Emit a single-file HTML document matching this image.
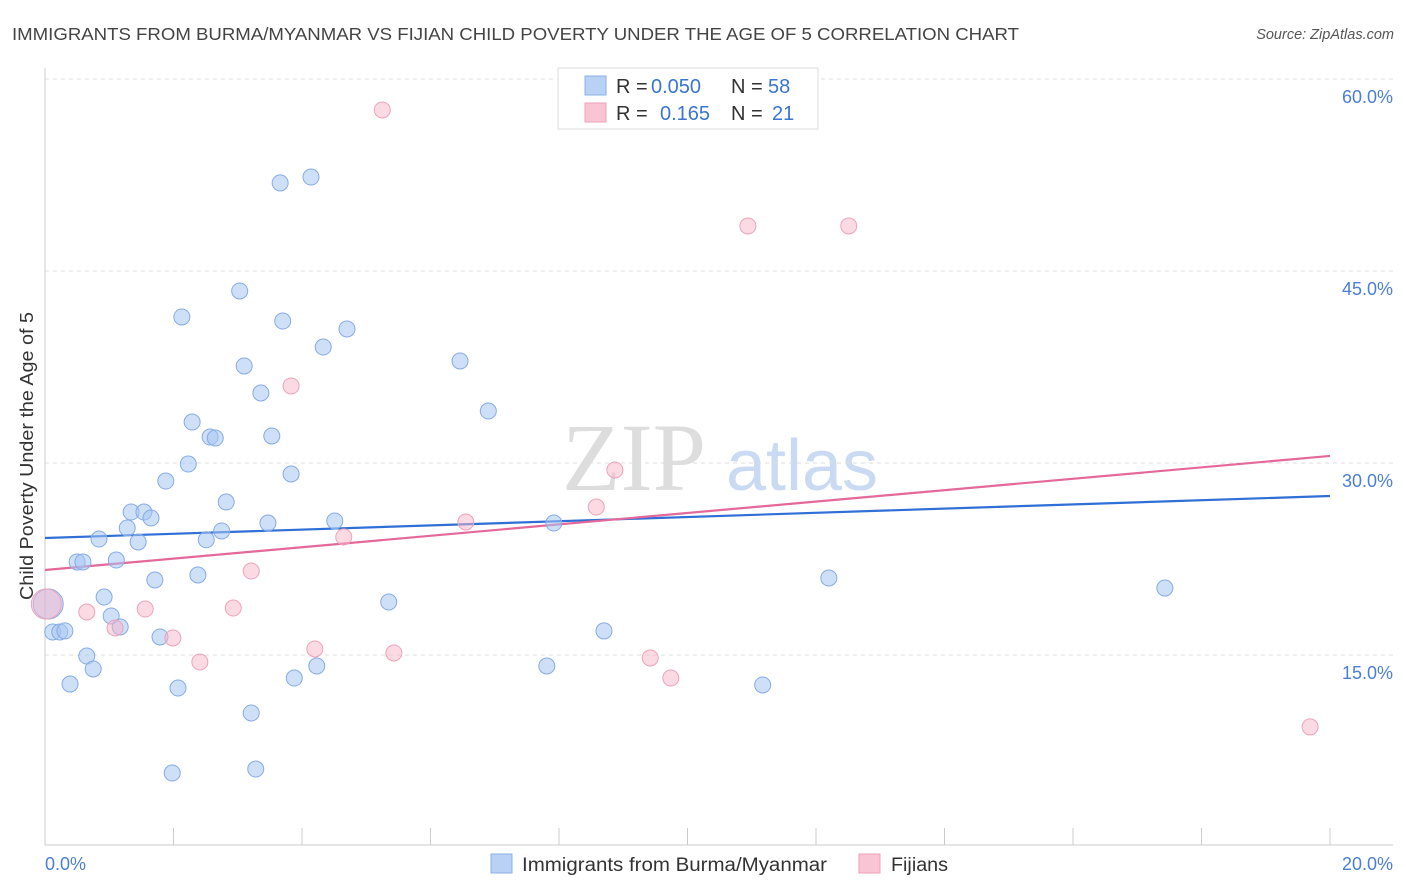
<!DOCTYPE html>
<html><head><meta charset="utf-8"><style>
body{margin:0;background:#fff;font-family:"Liberation Sans",Arial,sans-serif;}
svg{display:block}
</style></head><body>
<svg id="chart" width="1406" height="892">
<text x="12" y="40" font-size="17.5" fill="#444" textLength="1007" lengthAdjust="spacingAndGlyphs">IMMIGRANTS FROM BURMA/MYANMAR VS FIJIAN CHILD POVERTY UNDER THE AGE OF 5 CORRELATION CHART</text>
<text x="1394" y="39" font-size="14.5" fill="#555" font-style="italic" text-anchor="end">Source: ZipAtlas.com</text>
<g>
<text x="634" y="490" font-size="96" font-family="Liberation Serif,serif" fill="#ddd" text-anchor="middle">ZIP</text>
<text x="802" y="490" font-size="72" fill="#c9daf2" text-anchor="middle">atlas</text>
</g>
<g id="grid"></g>
<g id="axes"></g>
<g id="trends"></g>
<g id="points"></g>
<text x="33" y="456" font-size="18" fill="#333" text-anchor="middle" textLength="288" lengthAdjust="spacingAndGlyphs" transform="rotate(-90 33 456)">Child Poverty Under the Age of 5</text>
<g>
<rect x="558" y="68" width="260" height="61" fill="#fff" stroke="#ddd"/>
<rect x="585" y="76" width="21" height="19" fill="#b9d1f5" stroke="#8ab0e6"/>
<rect x="585" y="103" width="21" height="19" fill="#f9c5d4" stroke="#f0a0b8"/>
<text y="93" font-size="20" fill="#333"><tspan x="616">R = </tspan><tspan x="651" fill="#3a75d0">0.050</tspan><tspan x="731">N = </tspan><tspan x="768" fill="#3a75d0">58</tspan></text>
<text y="120" font-size="20" fill="#333"><tspan x="616">R = </tspan><tspan x="660" fill="#3a75d0">0.165</tspan><tspan x="731">N = </tspan><tspan x="772" fill="#3a75d0">21</tspan></text>
</g>
<g>
<rect x="491" y="854" width="21" height="19" fill="#b9d1f5" stroke="#8ab0e6"/>
<text x="522" y="871" font-size="19" fill="#333" textLength="305" lengthAdjust="spacingAndGlyphs">Immigrants from Burma/Myanmar</text>
<rect x="859" y="854" width="21" height="19" fill="#f9c5d4" stroke="#f0a0b8"/>
<text x="891" y="871" font-size="19" fill="#333" textLength="57" lengthAdjust="spacingAndGlyphs">Fijians</text>
</g>
</svg>
<script>
const blueX=[0.05,0.12,0.23,0.31,0.39,0.50,0.59,0.65,0.75,0.84,0.92,1.03,1.11,1.17,1.28,1.34,1.45,1.54,1.65,1.71,1.79,1.88,1.98,2.07,2.13,2.23,2.29,2.38,2.51,2.57,2.65,2.75,2.82,3.03,3.10,3.21,3.28,3.36,3.47,3.53,3.66,3.70,3.83,3.88,4.14,4.23,4.33,4.51,4.70,5.35,6.46,6.90,7.81,7.92,8.70,11.17,12.20,17.43];
const blueY=[18.98,16.80,16.80,16.88,12.73,22.27,22.27,14.92,13.91,24.06,19.53,18.05,22.42,17.19,24.92,26.17,23.83,26.17,25.70,20.86,16.41,28.59,5.78,12.42,41.41,29.92,33.20,21.25,24.00,32.03,31.95,24.69,26.95,43.44,37.58,10.47,6.09,35.47,25.31,32.11,51.88,41.09,29.14,13.20,52.34,14.14,39.06,25.47,40.47,19.14,37.97,34.06,14.14,25.31,16.88,12.66,21.02,20.23];
const pinkX=[0.02,0.65,1.09,1.56,1.99,2.41,2.93,3.21,4.20,4.65,5.25,3.83,5.43,6.55,8.58,8.87,9.42,9.74,10.94,12.51,19.69];
const pinkY=[18.98,18.36,17.11,18.59,16.33,14.45,18.67,21.56,15.47,24.22,57.58,36.02,15.16,25.39,26.56,29.45,14.77,13.20,48.52,48.52,9.38];
const blueTrend=[24.14,27.42];
const pinkTrend=[21.64,30.55];
const yTicks=[15,30,45,60];
const xTickCount=10;
const NS="http://www.w3.org/2000/svg";
const sx=v=>45+v*1285/20, sy=v=>847-v*192/15;
function mk(tag,attrs,parent){const e=document.createElementNS(NS,tag);for(const k in attrs)e.setAttribute(k,attrs[k]);document.getElementById(parent).appendChild(e);return e;}
yTicks.forEach(t=>{
 const l=mk('line',{x1:45,x2:1393,y1:sy(t),y2:sy(t),stroke:'#ddd','stroke-dasharray':'4,4'},'grid');
 
 
 const tx=mk('text',{x:1393,y:sy(t)+24,'font-size':18,fill:'#4a7fd4','text-anchor':'end'},'grid');
 tx.textContent=t.toFixed(1)+'%';
 
 
});
const ax=mk('line',{x1:45,x2:45,y1:68,y2:845,stroke:'#ccc'},'axes');


const bx=mk('line',{x1:45,x2:1393,y1:845,y2:845,stroke:'#ccc'},'axes');


for(let i=0;i<=xTickCount;i++){
 const x=sx(i*20/xTickCount);
 const t=mk('line',{x1:x,x2:x,y1:828,y2:845,stroke:'#ccc'},'axes');
 
 
}
const xl=mk('text',{x:45,y:870,'font-size':18,fill:'#4a7fd4'},'axes');xl.textContent='0.0%';


const xr=mk('text',{x:1393,y:870,'font-size':18,fill:'#4a7fd4','text-anchor':'end'},'axes');xr.textContent='20.0%';


function pts(X,Y,fill,stroke,name){
 X.forEach((x,i)=>{
  const r=(i===0)?15:8;
  const c=mk('circle',{cx:sx(x),cy:sy(Y[i]),r:r,fill:fill,stroke:stroke,'stroke-width':1},'points');
  
  
 });
}
pts(blueX,blueY,'rgba(165,197,242,0.55)','#86ace4','burma-point');
pts(pinkX,pinkY,'rgba(248,182,202,0.5)','#eea3bb','fijian-point');
const bl=mk('line',{x1:sx(0),x2:sx(20),y1:sy(blueTrend[0]),y2:sy(blueTrend[1]),stroke:'#2f6fd6','stroke-width':2.2},'trends');


const pl=mk('line',{x1:sx(0),x2:sx(20),y1:sy(pinkTrend[0]),y2:sy(pinkTrend[1]),stroke:'#e4689a','stroke-width':2.2},'trends');


</script>
</body></html>
